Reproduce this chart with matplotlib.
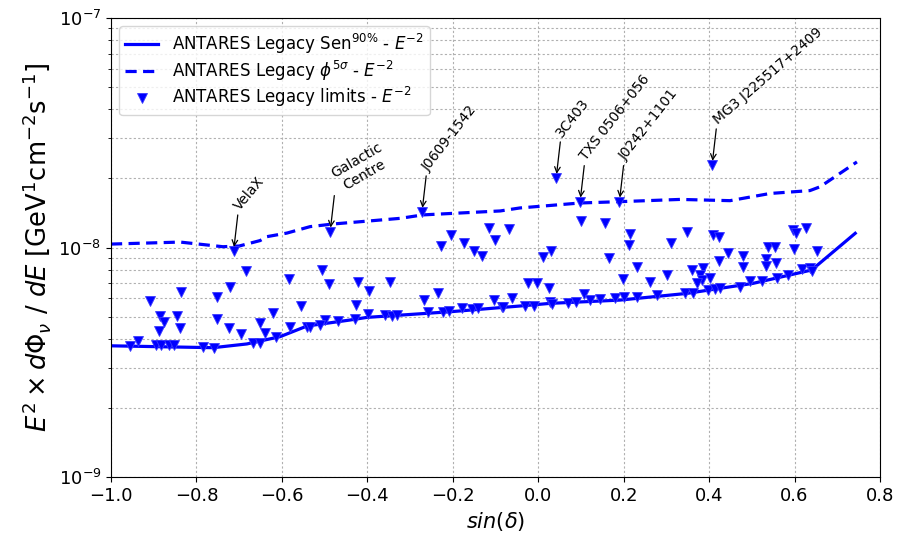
import matplotlib
matplotlib.use("Agg")
import matplotlib.pyplot as plt
from matplotlib.ticker import NullFormatter
import numpy as np

# sensitivity (90% CL) and 5 sigma discovery potential, flux in 1e-9 GeV cm^-2 s^-1
sen_sindec = [-1.0, -0.761, -0.682, -0.604, -0.541, -0.441, -0.401, -0.206, -0.043, 0.028,
              0.191, 0.348, 0.503, 0.640, 0.742]
sen_flux = [3.73, 3.66, 3.80, 4.09, 4.55, 4.83, 4.96, 5.25, 5.56, 5.71,
            5.90, 6.31, 6.98, 7.98, 11.53]

dp_sindec = [-1.0, -0.838, -0.738, -0.700, -0.651, -0.635, -0.588, -0.534, -0.480, -0.323,
             -0.270, -0.089, -0.043, 0.098, 0.191, 0.332, 0.449, 0.543, 0.636, 0.660, 0.746]
dp_flux = [10.35, 10.56, 10.08, 10.15, 10.72, 11.15, 11.56, 12.33, 12.66, 13.40,
           13.87, 14.43, 14.87, 15.63, 15.84, 16.20, 16.00, 17.20, 17.70, 18.40, 23.60]

# upper limits of the candidate list
lim_sindec = [
    -0.955, -0.936, -0.908, -0.885, -0.875, -0.887, -0.895, -0.883, -0.864, -0.853,
    -0.846, -0.839, -0.835, -0.785, -0.760, -0.752, -0.752, -0.723, -0.721, -0.684,
    -0.696, -0.668, -0.651, -0.651, -0.640, -0.621, -0.614, -0.583, -0.580, -0.555,
    -0.541, -0.505, -0.490, -0.421, -0.395, -0.427, -0.347, -0.398, -0.429, -0.468,
    -0.499, -0.511, -0.534, -0.359, -0.343, -0.331, -0.267, -0.235, -0.228, -0.204,
    -0.173, -0.150, -0.132, -0.115, -0.101, -0.257, -0.224, -0.209, -0.179, -0.156,
    -0.140, -0.103, -0.085, -0.068, 0.099, 0.156, 0.215, 0.213, 0.348, 0.310,
    0.011, 0.029, 0.166, 0.232, 0.302, 0.359, 0.262, 0.199, -0.023, -0.002,
    0.026, 0.107, -0.062, -0.082, -0.031, -0.011, 0.028, 0.032, 0.070, 0.088,
    0.121, 0.145, 0.180, 0.201, 0.231, 0.277, 0.344, 0.363, 0.410, 0.422,
    0.445, 0.422, 0.479, 0.479, 0.539, 0.555, 0.533, 0.533, 0.557, 0.597,
    0.604, 0.627, 0.599, 0.653, 0.386, 0.379, 0.383, 0.401, 0.371, 0.398,
    0.414, 0.426, 0.472, 0.496, 0.523, 0.560, 0.585, 0.617, 0.635, 0.640,
]
lim_flux = [
    3.72, 3.91, 5.84, 5.04, 4.72, 4.33, 3.76, 3.76, 3.76, 3.76,
    5.04, 4.46, 6.38, 3.70, 3.66, 6.10, 4.86, 4.47, 6.71, 7.92,
    4.18, 3.85, 3.85, 4.70, 4.23, 5.17, 4.09, 7.29, 4.52, 5.56,
    4.52, 7.98, 6.91, 7.05, 6.46, 5.62, 7.10, 5.11, 4.86, 4.78,
    4.83, 4.59, 4.49, 5.08, 5.03, 5.08, 5.90, 6.31, 10.15, 11.34,
    10.43, 9.68, 9.21, 12.13, 10.78, 5.25, 5.25, 5.30, 5.43, 5.38,
    5.43, 5.90, 5.49, 12.00, 13.05, 12.75, 11.45, 10.25, 11.65, 10.43,
    9.12, 9.68, 8.97, 8.25, 7.59, 7.98, 7.10, 7.27, 6.98, 6.98,
    6.64, 6.27, 6.04, 5.52, 5.56, 5.58, 5.80, 5.67, 5.75, 5.77,
    5.90, 5.96, 6.01, 6.10, 6.07, 6.21, 6.31, 6.35, 11.34, 11.15,
    9.43, 8.73, 9.21, 8.25, 10.08, 10.08, 8.89, 8.31, 8.53, 11.92,
    11.60, 12.20, 9.82, 9.68, 8.12, 7.59, 7.22, 7.34, 7.02, 6.53,
    6.57, 6.64, 6.71, 7.17, 7.17, 7.34, 7.59, 8.04, 8.12, 7.92,
]

# labelled sources
src_names = ["VelaX", "Galactic\nCentre", "J0609-1542", "3C403", "TXS 0506+056",
             "J0242+1101", "MG3 J225517+2409"]
src_sindec = [-0.713, -0.487, -0.272, 0.042, 0.098, 0.190, 0.407]
src_flux = [9.65, 11.72, 14.28, 20.08, 15.83, 15.83, 22.88]
src_rot = [50, 30, 52, 52, 52, 52, 41]

fig = plt.figure(figsize=(9.06, 5.34), dpi=100)
ax = fig.add_axes([0.1225, 0.1067, 0.8488, 0.8596])

ax.plot(sen_sindec, np.array(sen_flux) * 1e-9, color="blue", lw=2.3,
        label=r"ANTARES Legacy Sen$^{90\%}$ - $E^{-2}$")
ax.plot(dp_sindec, np.array(dp_flux) * 1e-9, color="blue", lw=2.3, ls=(0, (3.5, 2)),
        label=r"ANTARES Legacy $\phi^{5\sigma}$ - $E^{-2}$")
all_x = lim_sindec + src_sindec
all_y = np.array(lim_flux + src_flux) * 1e-9
ax.plot(all_x, all_y, ls="none", marker="v", ms=7.5, color="blue", mec="#3a3aff", mew=0.6,
        label=r"ANTARES Legacy limits - $E^{-2}$")

for name, sx, sy, rot in zip(src_names, src_sindec, src_flux, src_rot):
    ax.annotate("", xy=(sx, sy * 1e-9), xytext=(3, 26), textcoords="offset points",
                arrowprops=dict(arrowstyle="->", color="black", lw=0.9, shrinkA=0, shrinkB=3))
    if rot == 30:
        ax.annotate(name, xy=(sx, sy * 1e-9), xytext=(22, 46), textcoords="offset points",
                    rotation=rot, ha="center", va="center", multialignment="center",
                    fontsize=10)
    else:
        ax.annotate(name, xy=(sx, sy * 1e-9), xytext=(4.5, 29), textcoords="offset points",
                    rotation=rot, rotation_mode="anchor", ha="left", va="baseline",
                    fontsize=10)

ax.set_yscale("log")
ax.set_xlim(-1.0, 0.8)
ax.set_ylim(1e-9, 1e-7)
ax.set_xticks(np.arange(-1.0, 0.81, 0.2))
ax.yaxis.set_minor_formatter(NullFormatter())
ax.tick_params(axis="both", which="major", labelsize=13)
ax.set_xlabel(r"$sin(\delta)$", fontsize=15)
ax.set_ylabel(r"$E^2 \times d\Phi_\nu\ /\ dE$ [GeV$^1$cm$^{-2}$s$^{-1}$]", fontsize=18.5, labelpad=4)

ax.grid(which="major", color="#b0b0b0", ls=(0, (2, 2)), lw=0.8)
ax.grid(which="minor", axis="y", color="#b0b0b0", ls=(0, (2, 2)), lw=0.8)

ax.legend(loc="upper left", fontsize=12, framealpha=0.8, labelspacing=0.15, borderpad=0.35)

fig.savefig("out.png", dpi=100)
